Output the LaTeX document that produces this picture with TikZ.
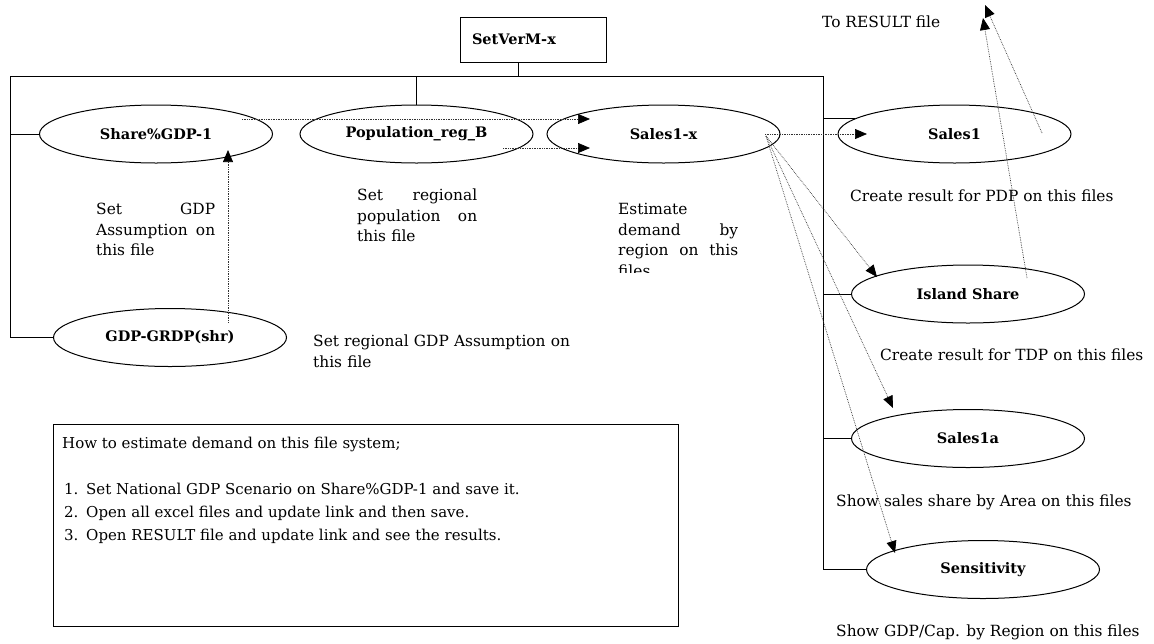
\documentclass[tikz,border=0pt]{standalone}
\usepackage{fontspec}
\setmainfont{DejaVu Serif}
\usetikzlibrary{shapes.geometric,arrows.meta}
\definecolor{linkgray}{RGB}{50,50,50}

\begin{document}
\begin{tikzpicture}[x=1pt,y=-1pt,
					wire/.style={line width=1pt},
					file/.style={ellipse, draw, wire, minimum width=233pt, minimum height=58pt, inner sep=0pt, font=\fontsize{14.5}{17}\selectfont\bfseries},
					note/.style={inner sep=0pt, anchor=base west, font=\fontsize{15.4}{20.5}\selectfont},
					para/.style={note, text width=#1, align=left},
					link/.style={linkgray, line width=0.7pt, densely dotted, -{Triangle[length=12pt,width=10pt,color=black]}}]
					\useasboundingbox (0,0) rectangle (1154,643);
					\node[draw, wire, minimum width=146pt, minimum height=45pt, text width=122pt, inner xsep=12pt, inner ysep=0pt, align=left, font=\fontsize{14.5}{17}\selectfont\bfseries] (setver) at (533,39.5) {SetVerM-x};
					\node[file] (share) at (156,134) {Share\%GDP-1};
					\node[file] (pop) at (416.5,134) {Population\_reg\_B};
					\node[file] (salesx) at (663.5,134) {Sales1-x};
					\node[file] (sales1) at (954.5,134) {Sales1};
					\node[file] (island) at (968,294) {Island Share};
					\node[file] (salesa) at (968,438.5) {Sales1a};
					\node[file] (sens) at (983,569.5) {Sensitivity};
					\node[file] (gdp) at (170,337.5) {GDP-GRDP(shr)};
					\coordinate (busL) at (10,76);
					\coordinate (busR) at (823,76);
					\draw[wire] (busL |- gdp.west) -- (busL) -- (busR) -- (busR |- sens.west);
					\draw[wire] ([xshift=-15pt]setver.south) -- ([xshift=-15pt]setver.south |- busL);
					\draw[wire] (pop.north) -- (pop.north |- busL);
					\foreach \n in {share,gdp}
						\draw[wire] (\n.west) -- (\n.west -| busL);
					\draw[wire] (sales1.171) -- (sales1.171 -| busR);
					\foreach \n in {island,salesa,sens}
						\draw[wire] (\n.west) -- (\n.west -| busR);
					\draw[link] ([shift={(58,-15)}]gdp.center) -- ([shift={(72,16)}]share.center);
					\draw[link] ([shift={(86,-15)}]share.center) -- ([shift={(-73.5,-15)}]salesx.center);
					\draw[link] ([shift={(86.5,14)}]pop.center) -- ([shift={(-73.5,14)}]salesx.center);
					\draw[link] ([shift={(101.5,0)}]salesx.center) -- ([shift={(-87.5,0)}]sales1.center);
					\foreach \n/\dx/\dy in {island/-91/-17, salesa/-75/-30.5, sens/-88/-16.5}
						\draw[link] ([shift={(102.5,2)}]salesx.center) -- ([shift={(\dx,\dy)}]\n.center);
					\coordinate (res1) at (985,5);
					\coordinate (res2) at (983,18);
					\draw[link] ([shift={(87.5,-1)}]sales1.center) -- (res1);
					\draw[link] ([shift={(59,-16)}]island.center) -- (res2);
					\node[note] (toresult) at (822,27.5) {To RESULT file};
					\node[note] (pdp) at (850,201.5) {Create result for PDP on this files};
					\node[note] (tdp) at (880,360.5) {Create result for TDP on this files};
					\node[note] (area) at (836,506.5) {Show sales share by Area on this files};
					\node[note] (gdpcap) at (836,636.5) {Show GDP/Cap. by Region on this files};
					\node[para=270pt] (regnote) at (313,346.5) {Set regional GDP Assumption on\\this file};
					\node[para=119pt] (gdpnote) at (96,214.5) {Set\hfill GDP\\Assumption\hfill on\\this file};
					\node[para=120pt] (popnote) at (357,200.5) {Set\hfill regional\\population\hfill on\\this file};
					\begin{scope}
						\clip (600,180) rectangle (760,272);
						\node[para=120pt] (estnote) at (618,214.5) {Estimate\\demand\hfill by\\region\hfill on\hfill this\\files};
					\end{scope}
					\node[draw, line width=0.8pt, minimum width=625pt, minimum height=202pt, inner sep=0pt] (howto) at (365.5,525) {};
					\node[note, font=\fontsize{15}{20}\selectfont] (howtitle) at (62,448) {How to estimate demand on this file system;};
					\foreach \t [count=\k] in {{Set National GDP Scenario on Share\%GDP-1 and save it.},{Open all excel files and update link and then save.},{Open RESULT file and update link and see the results.}} {
						\node[note, font=\fontsize{15}{20}\selectfont] (num\k) at (64,471+23*\k) {\k.};
						\node[note, font=\fontsize{15}{20}\selectfont] (item\k) at (86,471+23*\k) {\t};
					}
				\end{tikzpicture}
\end{document}
